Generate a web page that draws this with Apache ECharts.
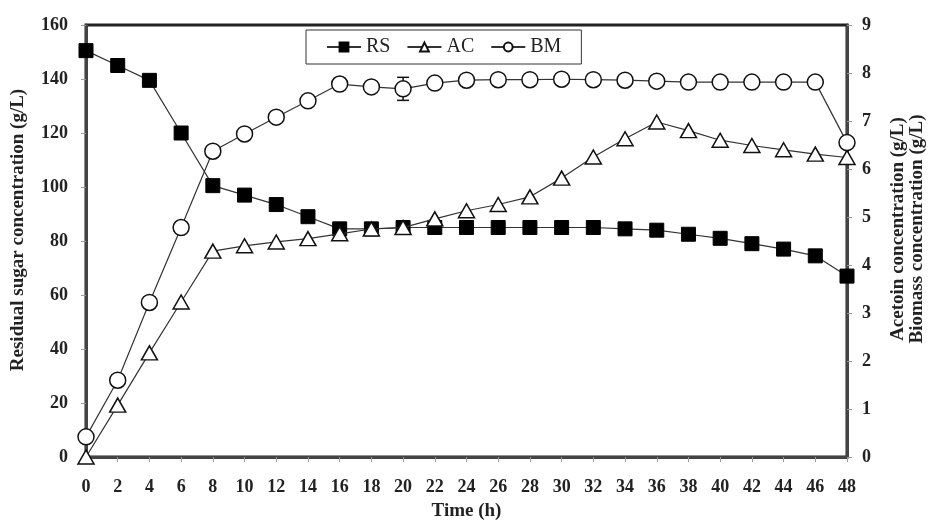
<!DOCTYPE html>
<html>
<head>
<meta charset="utf-8">
<script src="https://cdn.jsdelivr.net/npm/echarts@6/dist/echarts.min.js"></script>
<style>html,body{margin:0;padding:0;background:#fff}#c{width:935px;height:522px}</style>
</head>
<body>
<div id="c"></div>
<script>
const time = [0,2,4,6,8,10,12,14,16,18,20,22,24,26,28,30,32,34,36,38,40,42,44,46,48];
const RS = [150.5,145,139.5,120,100.5,97,93.5,89,84.5,84.5,85,85,85,85,85,85,85,84.5,84,82.5,81,79,77,74.5,67];
const AC = [0,1.08,2.17,3.23,4.29,4.4,4.48,4.55,4.65,4.75,4.78,4.96,5.13,5.26,5.42,5.81,6.25,6.63,6.98,6.8,6.6,6.49,6.4,6.31,6.24];
const BM = [0.42,1.6,3.22,4.78,6.37,6.73,7.08,7.42,7.77,7.71,7.67,7.79,7.85,7.86,7.86,7.87,7.86,7.85,7.83,7.81,7.81,7.81,7.81,7.81,6.55];
const BM_err = [0,0,0,0,0,0,0,0,0,0.1,0.24,0,0,0,0,0,0,0,0,0,0,0,0,0,0];
const yLeftTicks = [0,20,40,60,80,100,120,140,160];
const yRightTicks = [0,1,2,3,4,5,6,7,8,9];

const font = 'Liberation Serif';
const pair = a => time.map((t,i)=>[t,a[i]]);
const chart = echarts.init(document.getElementById('c'));
const lab = {fontFamily: font, fontSize: 18, fontWeight: 'bold', color: '#222'};
const nameStyle = {fontFamily: font, fontSize: 19, fontWeight: 'bold', color: '#222'};
chart.setOption({
  animation: false,
  grid: {left: 86, right: 88, top: 25, bottom: 65, containLabel: false, outerBoundsMode: 'none',
    show: true, borderColor: '#222', borderWidth: 3},
  legend: {
    left: 306, top: 30, padding: [7, 20, 7, 20], itemGap: 16,
    borderColor: '#333', borderWidth: 1, backgroundColor: '#fff',
    itemWidth: 34, itemHeight: 11,
    textStyle: {fontFamily: font, fontSize: 20, color: '#222'},
    data: ['RS','AC','BM']
  },
  xAxis: {
    type: 'value', min: 0, max: 48, interval: 2,
    name: 'Time (h)', nameLocation: 'middle', nameGap: 45,
    nameTextStyle: nameStyle,
    axisLine: {lineStyle: {color: '#444', width: 3}},
    axisTick: {show: true, length: 5, lineStyle: {color: '#999'}},
    axisLabel: Object.assign({margin: 21}, lab),
    splitLine: {show: false}
  },
  yAxis: [{
    type: 'value', min: 0, max: 160, interval: 20,
    name: 'Residual sugar concentration (g/L)', nameLocation: 'middle', nameGap: 58, nameRotate: 90,
    nameTextStyle: Object.assign({padding: [0,0,0,22]}, nameStyle),
    axisLine: {show: true, lineStyle: {color: '#444', width: 3}},
    axisTick: {show: true, length: 5, lineStyle: {color: '#999'}},
    axisLabel: Object.assign({margin: 18, formatter: v => yLeftTicks.includes(v) ? String(v) : ''}, lab),
    splitLine: {show: false}
  },{
    type: 'value', min: 0, max: 9, interval: 1,
    name: 'Acetoin concentration (g/L)\nBiomass concentration (g/L)', nameLocation: 'middle', nameGap: 42, nameRotate: 90,
    nameTextStyle: Object.assign({lineHeight: 19, padding: [0,0,0,24]}, nameStyle),
    axisLine: {show: true, lineStyle: {color: '#444', width: 3}},
    axisTick: {show: true, length: 5, lineStyle: {color: '#999'}},
    axisLabel: Object.assign({margin: 15, formatter: v => yRightTicks.includes(v) ? String(v) : ''}, lab),
    splitLine: {show: false}
  }],
  series: [
    {name: 'RS', type: 'line', yAxisIndex: 0, data: pair(RS), symbol: 'rect', symbolSize: 14,
      lineStyle: {color: '#333', width: 1.2}, itemStyle: {color: '#000', borderColor: '#000', borderWidth: 1}, z: 3},
    {name: 'AC', type: 'line', yAxisIndex: 1, data: pair(AC), symbol: 'triangle', symbolSize: [16,14],
      lineStyle: {color: '#333', width: 1.2}, itemStyle: {color: '#fff', borderColor: '#111', borderWidth: 1.5}, z: 4},
    {name: 'BM', type: 'line', yAxisIndex: 1, data: pair(BM), symbol: 'circle', symbolSize: 16,
      lineStyle: {color: '#333', width: 1.2}, itemStyle: {color: '#fff', borderColor: '#111', borderWidth: 1.5}, z: 4},
    {name: 'BMerr', type: 'custom', yAxisIndex: 1, z: 2,
      data: time.map((t,i)=>[t, BM[i], BM_err[i]]).filter(d => d[2] > 0),
      renderItem: function(params, api){
        const x = api.value(0), y = api.value(1), e = api.value(2);
        const hi = api.coord([x, y+e]), lo = api.coord([x, y-e]);
        const w = 6;
        const s = {stroke: '#111', lineWidth: 1.5};
        return {type: 'group', children: [
          {type: 'line', shape: {x1: hi[0], y1: hi[1], x2: lo[0], y2: lo[1]}, style: s},
          {type: 'line', shape: {x1: hi[0]-w, y1: hi[1], x2: hi[0]+w, y2: hi[1]}, style: s},
          {type: 'line', shape: {x1: lo[0]-w, y1: lo[1], x2: lo[0]+w, y2: lo[1]}, style: s}
        ]};
      }}
  ]
});
</script>
</body>
</html>
